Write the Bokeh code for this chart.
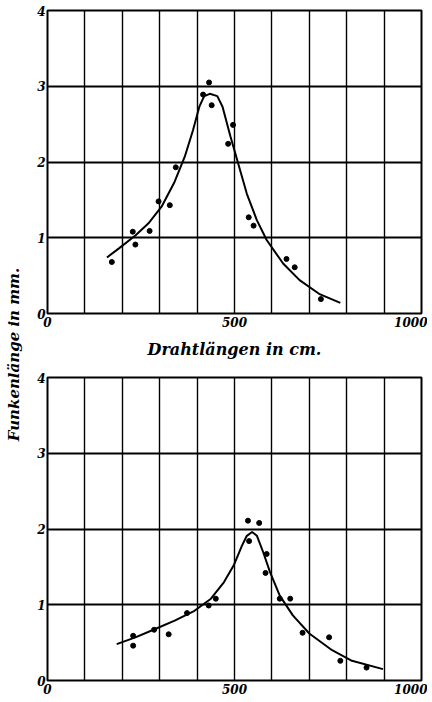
import math
from bokeh.plotting import figure
from bokeh.layouts import row, column
from bokeh.models import FixedTicker, Label, Range1d
from bokeh.embed import file_html
from bokeh.resources import INLINE

# ---- data ----
x_ticks = [0, 500, 1000]
x_grid = [0, 100, 200, 300, 400, 500, 600, 700, 800, 900, 1000]
y_ticks = [0, 1, 2, 3, 4]

top_pts_x = [172, 228, 235, 273, 297, 327, 343, 416, 432, 439, 483, 496, 538, 551, 639, 661, 731]
top_pts_y = [0.68, 1.08, 0.91, 1.09, 1.48, 1.43, 1.93, 2.89, 3.05, 2.75, 2.24, 2.49, 1.27, 1.16, 0.72, 0.61, 0.19]
top_curve_x = [159, 191, 235, 270, 305, 340, 367, 389, 406, 419, 434, 454, 468, 489, 507, 533, 560, 586, 630, 674, 726, 783]
top_curve_y = [0.74, 0.86, 1.03, 1.19, 1.41, 1.74, 2.07, 2.42, 2.73, 2.87, 2.90, 2.87, 2.73, 2.34, 2.03, 1.58, 1.23, 0.97, 0.66, 0.44, 0.26, 0.14]

bot_pts_x = [229, 229, 285, 324, 373, 431, 450, 536, 539, 566, 586, 583, 621, 649, 682, 753, 783, 853]
bot_pts_y = [0.59, 0.46, 0.67, 0.61, 0.89, 0.99, 1.08, 2.11, 1.84, 2.08, 1.67, 1.42, 1.08, 1.08, 0.63, 0.57, 0.26, 0.17]
bot_curve_x = [185, 235, 288, 340, 393, 437, 472, 498, 520, 533, 547, 560, 577, 595, 621, 656, 700, 761, 814, 897]
bot_curve_y = [0.48, 0.57, 0.68, 0.79, 0.92, 1.08, 1.30, 1.52, 1.78, 1.91, 1.96, 1.91, 1.69, 1.43, 1.12, 0.86, 0.62, 0.40, 0.26, 0.15]

x_title = "Drahtlängen in cm."
y_title = "Funkenlänge in mm."

FONT = "DejaVu Serif"


def make_chart(height, border_top, border_bottom, px, py, cx, cy, title=None):
    p = figure(width=393, height=height, x_range=Range1d(0, 1000), y_range=Range1d(0, 4),
               output_backend="svg", toolbar_location=None,
               min_border_left=7, min_border_right=6,
               min_border_top=border_top, min_border_bottom=border_bottom)
    p.background_fill_color = "white"
    p.border_fill_color = "white"
    p.outline_line_color = "black"
    p.outline_line_width = 2
    p.xaxis.ticker = FixedTicker(ticks=x_ticks)
    p.yaxis.ticker = FixedTicker(ticks=y_ticks)
    p.xgrid.ticker = FixedTicker(ticks=x_grid)
    p.ygrid.ticker = FixedTicker(ticks=y_ticks)
    p.xgrid.grid_line_color = "black"
    p.xgrid.grid_line_width = 1.4
    p.ygrid.grid_line_color = "black"
    p.ygrid.grid_line_width = 2
    for ax in (p.xaxis, p.yaxis):
        ax.axis_line_color = None
        ax.major_tick_line_color = None
        ax.minor_tick_line_color = None
        ax.major_tick_out = 0
        ax.major_tick_in = 0
        ax.major_label_text_font = FONT
        ax.major_label_text_font_style = "bold italic"
        ax.major_label_text_font_size = "12px"
        ax.major_label_text_color = "black"
    p.xaxis.major_label_standoff = 3
    p.yaxis.major_label_standoff = 2
    if title:
        p.xaxis.axis_label = title
        p.xaxis.axis_label_text_font = FONT
        p.xaxis.axis_label_text_font_style = "bold italic"
        p.xaxis.axis_label_text_font_size = "16px"
        p.xaxis.axis_label_text_color = "black"
        p.xaxis.axis_label_standoff = 10
    p.line(cx, cy, line_color="black", line_width=2)
    p.scatter(px, py, size=5, color="black")
    return p


top = make_chart(362, 10, 49, top_pts_x, top_pts_y, top_curve_x, top_curve_y, x_title)
bot = make_chart(338, 15, 20, bot_pts_x, bot_pts_y, bot_curve_x, bot_curve_y)

lab = figure(width=34, height=700, x_range=Range1d(0, 34), y_range=Range1d(0, 700),
             output_backend="svg", toolbar_location=None,
             x_axis_type=None, y_axis_type=None,
             min_border_left=0, min_border_right=0, min_border_top=0, min_border_bottom=0)
lab.outline_line_color = None
lab.grid.visible = False
lab.add_layout(Label(x=13, y=346, text=y_title, angle=math.pi / 2,
                     text_align="center", text_baseline="middle",
                     text_font=FONT, text_font_style="bold italic",
                     text_font_size="15px", text_color="black"))

layout = row(lab, column(top, bot))

open("out.html", "w").write(file_html(layout, INLINE))
